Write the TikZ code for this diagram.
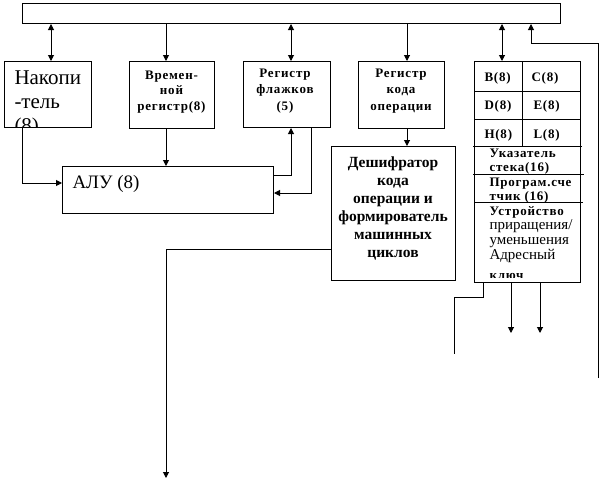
\documentclass[tikz,border=0pt]{standalone}
\usepackage{fontspec}
\setmainfont{Liberation Serif}
\newfontfamily\spfont[LetterSpace=6]{Liberation Serif}
\usetikzlibrary{arrows.meta,calc}
\begin{document}
\begin{tikzpicture}[x=1pt,y=-1pt,line width=1pt,>={Triangle[width=6pt,length=6pt]},
  box/.style={draw,inner sep=0pt,anchor=north west},
  sb/.style={inner sep=0pt,font=\spfont\bfseries\fontsize{13}{15}\selectfont},
  bigb/.style={inner sep=0pt,font=\bfseries\fontsize{15.5}{18}\selectfont},
  rg/.style={inner sep=0pt,font=\fontsize{15}{16}\selectfont},
  acct/.style={inner sep=0pt,font=\fontsize{21}{24}\selectfont,anchor=base west}]
\useasboundingbox (0,0) rectangle (600,482);
% boxes
\node[box,minimum width=538pt,minimum height=20pt] (bus) at (22,3) {};
\node[box,minimum width=87pt,minimum height=66pt] (acc) at (4,61) {};
\node[box,minimum width=85pt,minimum height=67pt] (tmp) at (129,61) {};
\node[box,minimum width=87pt,minimum height=66pt] (flg) at (243,61) {};
\node[box,minimum width=86pt,minimum height=67pt] (ir) at (358,61) {};
\node[box,minimum width=106pt,minimum height=221pt] (regs) at (474,61) {};
\node[box,minimum width=211pt,minimum height=47pt] (alu) at (62,166) {};
\node[box,minimum width=124pt,minimum height=134pt] (dec) at (331,146) {};
% texts
\begin{scope}
\clip (4,61) rectangle (91,126);
\foreach \t [count=\i] in {Накопи,-тель,(8)}
  \node[acct] (acct\i) at (14,{84+24*(\i-1)}) {\t};
\end{scope}
\node[inner sep=0pt,font=\fontsize{19}{22}\selectfont,anchor=base west] (alut) at (72,188) {АЛУ (8)};
\foreach \t [count=\i] in {Времен-,ной,регистр(8)}
  \node[sb,anchor=base] (tmpt\i) at (171.5,{79+15.5*(\i-1)}) {\t};
\foreach \t [count=\i] in {Регистр,флажков,(5)}
  \node[sb,anchor=base] (flgt\i) at (285,{77+16.5*(\i-1)}) {\t};
\foreach \t [count=\i] in {Регистр,кода,операции}
  \node[sb,anchor=base] (irt\i) at (401,{77+16.5*(\i-1)}) {\t};
\foreach \t [count=\i] in {Дешифратор,кода,операции и,формирователь,машинных,циклов}
  \node[bigb,anchor=base] (dect\i) at (393,{167+18*(\i-1)}) {\t};
\node[sb,anchor=base west] (rb) at (484,81) {B(8)};
\node[sb,anchor=base west] (rc) at (531,81) {C(8)};
\node[sb,anchor=base west] (rd) at (484,109) {D(8)};
\node[sb,anchor=base west] (re) at (533,109) {E(8)};
\node[sb,anchor=base west] (rh) at (484,138) {H(8)};
\node[sb,anchor=base west] (rl) at (533,138) {L(8)};
\foreach \t [count=\i] in {Указатель,стека(16),Програм.сче,тчик (16),Устройство}
  \node[sb,anchor=base west] (rt\i) at (489,{157+14.5*(\i-1)}) {\t};
\begin{scope}
\clip (474,61) rectangle (580,277);
\foreach \t [count=\i] in {приращения/,уменьшения,Адресный}
  \node[rg,anchor=base west] (ru\i) at (489,{229+15*(\i-1)}) {\t};
\node[sb,anchor=base west] (ru4) at (489,279) {ключ};
\end{scope}
% register grid
\coordinate (r1) at (0,91); \coordinate (r2) at (0,119); \coordinate (r3) at (0,146.5);
\coordinate (r4) at (0,174); \coordinate (r5) at (0,202); \coordinate (vd) at (522,0);
\draw (regs.west |- r1) -- (regs.east |- r1);
\draw (regs.west |- r2) -- (regs.east |- r2);
\draw ($(regs.west |- r3)+(-1,0)$) -- ($(regs.east |- r3)+(1,0)$);
\draw ($(regs.west |- r4)+(-1,0)$) -- ($(regs.east |- r4)+(3,0)$);
\draw (regs.west |- r5) -- ($(regs.east |- r5)+(2,0)$);
\draw (regs.north -| vd) -- (vd |- r3);
% bus connections
\coordinate (xa) at (51,0); \coordinate (xt) at (166,0); \coordinate (xf) at (291,0);
\coordinate (xi) at (407,0); \coordinate (xr) at (502,0);
\draw[<->] (bus.south -| xa) -- (acc.north -| xa);
\draw[->] (bus.south -| xt) -- (tmp.north -| xt);
\draw[->] (tmp.south -| xt) -- (alu.north -| xt);
\draw[<->] (bus.south -| xf) -- (flg.north -| xf);
\draw[->] (bus.south -| xi) -- (ir.north -| xi);
\draw[->] (ir.south -| xi) -- (dec.north -| xi);
\draw[<->] (bus.south -| xr) -- (regs.north -| xr);
% ALU connections
\coordinate (ka) at (22,183);
\draw[->] (acc.south -| ka) |- (alu.west |- ka);
\coordinate (kf1) at (291,175);
\draw[->] (alu.east |- kf1) -| (flg.south -| kf1);
\coordinate (kf2) at (311,193);
\draw[->] (flg.south -| kf2) |- (alu.east |- kf2);
% decoder output
\coordinate (kd) at (166,249); \coordinate (od) at (166,478);
\draw[->] (dec.west |- kd) -| (od);
% feedback to bus
\coordinate (fb0) at (598,378); \coordinate (fb1) at (531,43);
\draw[->] (fb0) |- (fb1) -- (bus.south -| fb1);
% register outputs
\coordinate (ob0) at (483,297); \coordinate (ob1) at (454,354);
\draw (regs.south -| ob0) -- (ob0) -| (ob1);
\coordinate (ob2) at (511,333); \coordinate (ob3) at (540,333);
\draw[->] (regs.south -| ob2) -- (ob2);
\draw[->] (regs.south -| ob3) -- (ob3);
\end{tikzpicture}
\end{document}
